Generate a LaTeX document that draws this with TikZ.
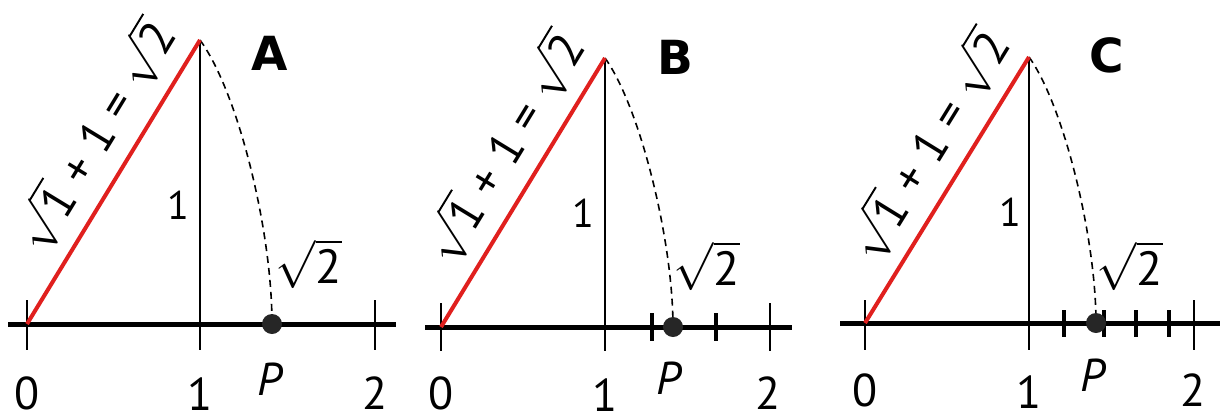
\RequirePackage{fix-cm}
\documentclass[tikz,border=0pt]{standalone}
\usepackage{fontspec}
\setmainfont{PT Sans}
\newfontfamily\heavyfont{DejaVu Sans}
\definecolor{hypred}{HTML}{E0201E}
\newcommand{\hyplabel}{$\sqrt{\hbox{1}}$ + 1 = $\sqrt{\hbox{2}}$}
\begin{document}
\begin{tikzpicture}[x=1pt,y=-1pt,
  axisline/.style={line width=5pt},
  tk/.style={line width=2pt},
  thk/.style={line width=4.5pt},
  leg/.style={line width=2pt},
  hyp/.style={line width=4pt, hypred},
  arcd/.style={dash pattern=on 7pt off 5pt, line width=1.6pt},
  num/.style={font=\fontsize{46}{50}\selectfont, inner sep=0pt, anchor=base},
  mid/.style={font=\fontsize{40}{44}\selectfont, inner sep=0pt},
  sq/.style={font=\fontsize{48}{52}\selectfont, inner sep=0pt},
  hlab/.style={font=\fontsize{48}{52}\selectfont, text=black, inner sep=0pt, sloped, above=13pt},
  letter/.style={font=\fontsize{47}{50}\selectfont\heavyfont\bfseries, inner sep=0pt},
  dot/.style={fill=black!85, circle, inner sep=0pt, minimum size=20pt}
]
\useasboundingbox (0,0) rectangle (1227,416);

% ---------------- Panel A ----------------
\coordinate (aL) at (8,324);  \coordinate (aR) at (396,324);
\coordinate (a0) at (27,324); \coordinate (a1) at (200,324); \coordinate (a2) at (375,324);
\coordinate (aT) at (200,40);
\draw[axisline] (aL) -- (aR);
\draw[tk] (27,300) -- (27,350);
\draw[tk] (375,300) -- (375,350);
\draw[leg] (aT) -- (200,350);
\draw[arcd] (aT) .. controls (238,92) and (272,230) .. (272,324);
\node[dot] (aP) at (272,324) {};
\draw[hyp] (a0) -- node[hlab, pos=0.59] (aH) {\hyplabel} (aT);
\node[num] (an0) at (27,409) {0};
\node[num] (an1) at (200,410) {1};
\node[num] (an2) at (375,409) {2};
\node[num] (anP) at (270,395) {\itshape P};
\node[mid] (anM) at (178,205) {1};
\node[sq] (anS) at (309,264) {$\sqrt{\hbox{2}}$};
\node[letter] (aA) at (270,53) {A};

% ---------------- Panel B ----------------
\coordinate (bL) at (425,327); \coordinate (bR) at (792,327);
\coordinate (b0) at (441,327); \coordinate (b1) at (605,327); \coordinate (b2) at (770,327);
\coordinate (bT) at (605,58);
\draw[axisline] (bL) -- (bR);
\draw[tk] (441,303) -- (441,351);
\draw[tk] (770,303) -- (770,351);
\draw[leg] (bT) -- (605,351);
\draw[thk] (652,313) -- (652,341);
\draw[thk] (716,313) -- (716,341);
\draw[arcd] (bT) .. controls (640,107) and (673,240) .. (673,327);
\node[dot] (bP) at (673,327) {};
\draw[hyp] (b0) -- node[hlab, pos=0.59] (bH) {\hyplabel} (bT);
\node[num] (bn0) at (441,409) {0};
\node[num] (bn1) at (605,411) {1};
\node[num] (bn2) at (768,409) {2};
\node[num] (bnP) at (669,394) {\itshape P};
\node[mid] (bnM) at (583,213) {1};
\node[sq] (bnS) at (707,266) {$\sqrt{\hbox{2}}$};
\node[letter] (bB) at (675,57) {B};

% ---------------- Panel C ----------------
\coordinate (cL) at (840,323); \coordinate (cR) at (1220,323);
\coordinate (c0) at (865,323); \coordinate (c1) at (1029,323); \coordinate (c2) at (1194,323);
\coordinate (cT) at (1029,57);
\draw[axisline] (cL) -- (cR);
\draw[tk] (865,300) -- (865,350);
\draw[tk] (1194,300) -- (1194,350);
\draw[leg] (cT) -- (1029,350);
\draw[thk] (1064,310) -- (1064,337);
\draw[thk] (1104,310) -- (1104,337);
\draw[thk] (1136,310) -- (1136,337);
\draw[thk] (1169,310) -- (1169,337);
\draw[arcd] (cT) .. controls (1064,106) and (1096,238) .. (1096,323);
\node[dot] (cP) at (1096,323) {};
\draw[hyp] (c0) -- node[hlab, pos=0.59] (cH) {\hyplabel} (cT);
\node[num] (cn0) at (865,406) {0};
\node[num] (cn1) at (1029,408) {1};
\node[num] (cn2) at (1193,406) {2};
\node[num] (cnP) at (1093,391) {\itshape P};
\node[mid] (cnM) at (1010,212) {1};
\node[sq] (cnS) at (1130,266) {$\sqrt{\hbox{2}}$};
\node[letter] (cC) at (1107,55) {C};
\end{tikzpicture}
\end{document}
